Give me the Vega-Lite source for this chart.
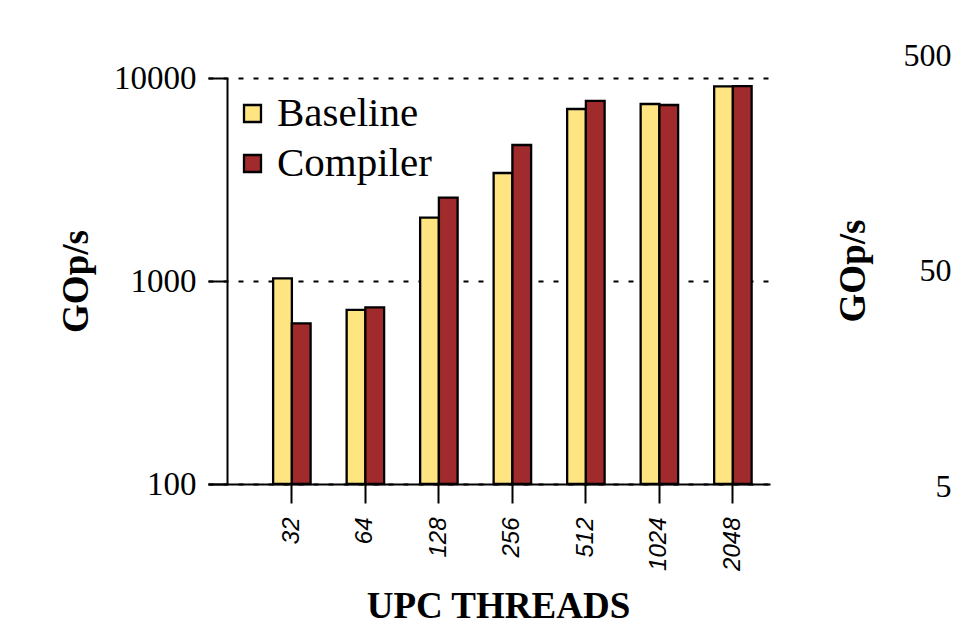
{
  "$schema": "https://vega.github.io/schema/vega-lite/v6.json",
  "padding": {"left": 57, "top": 39, "right": 0, "bottom": 0},
  "background": "white",
  "spacing": 64,
  "config": {
    "view": {"stroke": null},
    "font": "Liberation Serif",
    "axis": {"domainColor": "black", "tickColor": "black", "labelColor": "black", "titleColor": "black", "domainWidth": 2, "tickWidth": 2, "labelFont": "Liberation Serif", "titleFont": "Liberation Serif"}
  },
  "hconcat": [
    {
      "width": 562,
      "height": 406,
      "data": {"values": [
        {"threads": "32", "series": "Baseline", "gops": 1031},
        {"threads": "32", "series": "Compiler", "gops": 619},
        {"threads": "64", "series": "Baseline", "gops": 720},
        {"threads": "64", "series": "Compiler", "gops": 742},
        {"threads": "128", "series": "Baseline", "gops": 2050},
        {"threads": "128", "series": "Compiler", "gops": 2572},
        {"threads": "256", "series": "Baseline", "gops": 3404},
        {"threads": "256", "series": "Compiler", "gops": 4677},
        {"threads": "512", "series": "Baseline", "gops": 7036},
        {"threads": "512", "series": "Compiler", "gops": 7709},
        {"threads": "1024", "series": "Baseline", "gops": 7447},
        {"threads": "1024", "series": "Compiler", "gops": 7362},
        {"threads": "2048", "series": "Baseline", "gops": 9100},
        {"threads": "2048", "series": "Compiler", "gops": 9120}
      ]},
      "mark": {"type": "bar", "stroke": "black", "strokeWidth": 2.3},
      "encoding": {
        "x": {
          "field": "threads", "type": "ordinal", "sort": null,
          "scale": {"paddingInner": 0.49, "paddingOuter": 0.568, "align": 0.78},
          "axis": {"title": "UPC THREADS", "labelAngle": 270, "labelFont": "Liberation Sans", "labelFontStyle": "italic", "labelFontSize": 24, "labelPadding": 14, "tickSize": 19, "titleFontWeight": "bold", "titleFontSize": 37, "titlePadding": 18, "titleX": 290, "grid": false}
        },
        "xOffset": {"field": "series", "type": "nominal", "sort": ["Baseline", "Compiler"]},
        "y": {
          "field": "gops", "type": "quantitative",
          "scale": {"type": "log", "domain": [100, 10000]},
          "axis": {"title": "GOp/s", "values": [100, 1000, 10000], "format": "d", "offset": -19, "tickSize": 19, "labelPadding": 12, "labelFontSize": 33, "titleFontSize": 37, "titleFontWeight": "bold", "titlePadding": 18, "grid": true, "gridDash": [5, 10], "gridColor": "black", "gridWidth": 2, "gridOpacity": 1}
        },
        "y2": {"datum": 100},
        "color": {
          "field": "series", "type": "nominal", "sort": ["Baseline", "Compiler"],
          "scale": {"range": ["#FFE482", "#A12A2C"]},
          "legend": {"title": null, "orient": "none", "legendX": 24, "legendY": 15, "symbolType": "square", "symbolSize": 289, "symbolStrokeColor": "black", "symbolStrokeWidth": 2.3, "symbolOpacity": 1, "labelFont": "Liberation Serif", "labelFontSize": 41, "labelOffset": 4, "rowPadding": 8, "labelColor": "black"}
        }
      }
    },
    {
      "width": 300,
      "height": 406,
      "data": {"values": []},
      "mark": {"type": "rule"},
      "encoding": {
        "y": {
          "field": "gops", "type": "quantitative",
          "scale": {"type": "log", "domain": [5, 500], "range": [408, -23]},
          "axis": {"title": "GOp/s", "values": [5, 50, 500], "format": "d", "tickSize": 19, "labelPadding": 12, "labelFontSize": 32, "titleFontSize": 37, "titleFontWeight": "bold", "titlePadding": 31, "grid": false}
        }
      }
    }
  ]
}
